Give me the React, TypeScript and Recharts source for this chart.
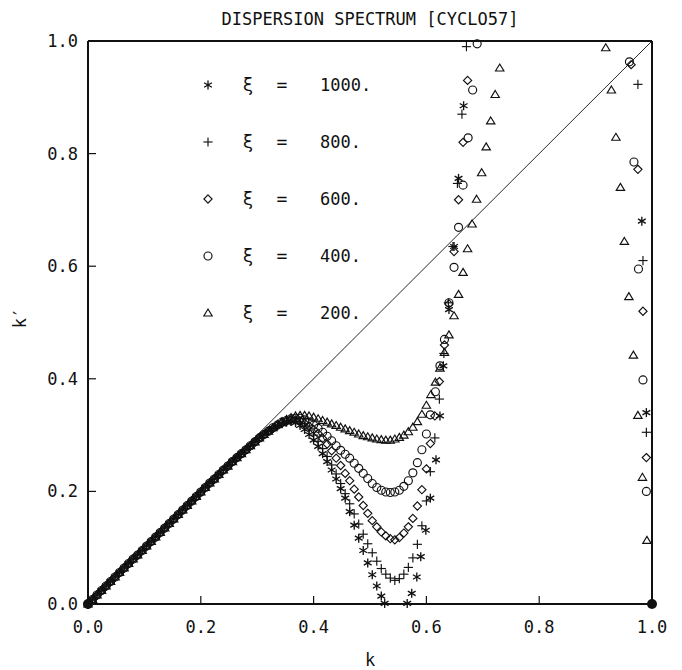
import React from 'react';
import { ScatterChart, Scatter, XAxis, YAxis, ReferenceLine, Customized } from 'recharts';

const FONT = '"DejaVu Sans Mono", monospace';
const INK = '#111';

const title = 'DISPERSION SPECTRUM [CYCLO57]';
const xLabel = 'k';
const yLabel = 'k\u2032';
const axisTicks = [0, 0.2, 0.4, 0.6, 0.8, 1.0];
const tickLabels = ['0.0', '0.2', '0.4', '0.6', '0.8', '1.0'];
const xiLabels = ['1000.', '800.', '600.', '400.', '200.'];

// shared rising branch (all five curves overlap here)
const risingBranch: [number, number][] = [
  [0, 0], [0.008, 0.008], [0.016, 0.016], [0.024, 0.024], [0.032, 0.032], [0.04, 0.04],
  [0.048, 0.048], [0.056, 0.056], [0.064, 0.064], [0.072, 0.072], [0.08, 0.08], [0.088, 0.087],
  [0.096, 0.095], [0.104, 0.103], [0.112, 0.111], [0.12, 0.119], [0.128, 0.127], [0.136, 0.135],
  [0.144, 0.143], [0.152, 0.151], [0.16, 0.159], [0.168, 0.167], [0.176, 0.175], [0.184, 0.183],
  [0.192, 0.191], [0.2, 0.199], [0.208, 0.207], [0.216, 0.215], [0.224, 0.222], [0.232, 0.23],
  [0.24, 0.238], [0.248, 0.245], [0.256, 0.253], [0.264, 0.26], [0.272, 0.267], [0.28, 0.274],
  [0.288, 0.281], [0.296, 0.288], [0.304, 0.295], [0.312, 0.301], [0.32, 0.307],
];

const xi1000Own: [number, number][] = [
  [0.328, 0.312], [0.336, 0.317], [0.344, 0.32], [0.352, 0.323], [0.36, 0.324], [0.368, 0.322],
  [0.376, 0.317], [0.384, 0.31], [0.392, 0.301], [0.4, 0.291], [0.408, 0.28], [0.416, 0.267],
  [0.424, 0.253], [0.432, 0.238], [0.44, 0.222], [0.448, 0.205], [0.456, 0.188], [0.464, 0.164],
  [0.472, 0.14], [0.48, 0.117], [0.488, 0.095], [0.496, 0.073], [0.504, 0.052], [0.512, 0.032],
  [0.52, 0.014], [0.526, 0.001],
  [0.566, 0.001], [0.574, 0.019], [0.583, 0.048], [0.59, 0.084], [0.599, 0.131], [0.607, 0.188],
  [0.617, 0.256], [0.624, 0.334], [0.63, 0.423], [0.64, 0.523], [0.649, 0.635], [0.657, 0.756],
  [0.666, 0.885],
  [0.982, 0.68], [0.99, 0.34],
];

const xi800Own: [number, number][] = [
  [0.328, 0.312], [0.336, 0.317], [0.344, 0.321], [0.352, 0.324], [0.36, 0.325], [0.368, 0.324],
  [0.376, 0.321], [0.384, 0.316], [0.392, 0.309], [0.4, 0.3], [0.408, 0.289], [0.416, 0.276],
  [0.424, 0.262], [0.432, 0.247], [0.44, 0.231], [0.448, 0.214], [0.456, 0.196], [0.464, 0.178],
  [0.472, 0.16], [0.48, 0.142], [0.488, 0.124], [0.496, 0.107], [0.504, 0.091], [0.512, 0.076],
  [0.52, 0.063], [0.528, 0.053], [0.536, 0.046], [0.544, 0.042], [0.552, 0.045], [0.56, 0.053],
  [0.568, 0.065], [0.576, 0.082], [0.584, 0.106], [0.592, 0.139], [0.6, 0.183], [0.607, 0.235],
  [0.615, 0.295], [0.623, 0.364], [0.631, 0.445], [0.639, 0.535], [0.647, 0.635], [0.655, 0.747],
  [0.663, 0.87], [0.671, 0.99],
  [0.975, 0.923], [0.984, 0.61], [0.99, 0.305],
];

const xi600Own: [number, number][] = [
  [0.328, 0.312], [0.336, 0.318], [0.344, 0.322], [0.352, 0.325], [0.36, 0.327], [0.368, 0.327],
  [0.376, 0.325], [0.384, 0.321], [0.392, 0.316], [0.4, 0.31], [0.408, 0.303], [0.416, 0.294],
  [0.424, 0.284], [0.432, 0.272], [0.44, 0.259], [0.448, 0.246], [0.456, 0.232], [0.464, 0.219],
  [0.472, 0.204], [0.48, 0.19], [0.488, 0.175], [0.496, 0.161], [0.504, 0.148], [0.512, 0.137],
  [0.52, 0.128], [0.528, 0.121], [0.536, 0.116], [0.544, 0.114], [0.552, 0.118], [0.56, 0.126],
  [0.568, 0.137], [0.576, 0.152], [0.584, 0.174], [0.592, 0.203], [0.6, 0.24], [0.607, 0.285],
  [0.615, 0.334], [0.623, 0.395], [0.632, 0.46], [0.64, 0.533], [0.649, 0.626], [0.657, 0.718],
  [0.665, 0.82], [0.673, 0.93],
  [0.963, 0.958], [0.975, 0.772], [0.984, 0.52], [0.99, 0.26],
];

const xi400Own: [number, number][] = [
  [0.328, 0.313], [0.336, 0.318], [0.344, 0.323], [0.352, 0.326], [0.36, 0.329], [0.368, 0.33],
  [0.376, 0.33], [0.384, 0.327], [0.392, 0.323], [0.4, 0.318], [0.408, 0.312], [0.416, 0.305],
  [0.424, 0.298], [0.432, 0.29], [0.44, 0.281], [0.448, 0.273], [0.456, 0.266], [0.464, 0.259],
  [0.472, 0.25], [0.48, 0.241], [0.488, 0.232], [0.496, 0.223], [0.504, 0.214], [0.512, 0.207],
  [0.52, 0.202], [0.528, 0.199], [0.536, 0.198], [0.544, 0.199], [0.552, 0.202], [0.56, 0.209],
  [0.568, 0.219], [0.576, 0.233], [0.584, 0.251], [0.592, 0.274], [0.6, 0.302], [0.607, 0.336],
  [0.616, 0.377], [0.624, 0.423], [0.632, 0.47], [0.64, 0.535], [0.649, 0.598], [0.657, 0.669],
  [0.665, 0.744], [0.674, 0.828], [0.682, 0.913], [0.69, 0.995],
  [0.96, 0.963], [0.968, 0.785], [0.976, 0.595], [0.984, 0.398], [0.99, 0.2],
];

const xi200Own: [number, number][] = [
  [0.328, 0.313], [0.336, 0.319], [0.344, 0.324], [0.352, 0.328], [0.36, 0.331], [0.368, 0.334],
  [0.376, 0.335], [0.384, 0.335], [0.392, 0.334], [0.4, 0.332], [0.408, 0.329], [0.416, 0.326],
  [0.424, 0.323], [0.432, 0.32], [0.44, 0.317], [0.448, 0.314], [0.456, 0.311], [0.464, 0.308],
  [0.472, 0.305], [0.48, 0.302], [0.488, 0.299], [0.496, 0.297], [0.504, 0.295], [0.512, 0.293],
  [0.52, 0.292], [0.528, 0.291], [0.536, 0.291], [0.544, 0.293], [0.552, 0.296], [0.56, 0.3],
  [0.568, 0.306], [0.576, 0.314], [0.584, 0.324], [0.592, 0.337], [0.6, 0.353], [0.608, 0.372],
  [0.616, 0.394], [0.624, 0.419], [0.632, 0.447], [0.64, 0.478], [0.649, 0.512], [0.657, 0.55],
  [0.665, 0.589], [0.673, 0.631], [0.681, 0.675], [0.689, 0.719], [0.698, 0.766], [0.706, 0.812],
  [0.714, 0.858], [0.722, 0.905], [0.73, 0.952],
  [0.918, 0.988], [0.928, 0.913], [0.936, 0.829], [0.944, 0.74], [0.951, 0.644], [0.959, 0.546],
  [0.967, 0.442], [0.975, 0.335], [0.983, 0.225], [0.991, 0.113],
];

const endPoints: [number, number][] = [[0, 0], [1, 0]];

const toPts = (arr: [number, number][]) => arr.map(([k, kp]) => ({ k, kp }));

const SW = 1.15;

const StarMark = ({ cx, cy }: any) => {
  const r = 4.5;
  const a = r * Math.cos(Math.PI / 6);
  const b = r * 0.5;
  return (
    <g stroke={INK} strokeWidth={1.35} fill="none">
      <line x1={cx} y1={cy - r} x2={cx} y2={cy + r} />
      <line x1={cx - a} y1={cy - b} x2={cx + a} y2={cy + b} />
      <line x1={cx - a} y1={cy + b} x2={cx + a} y2={cy - b} />
    </g>
  );
};
const PlusMark = ({ cx, cy }: any) => (
  <g stroke={INK} strokeWidth={SW} fill="none">
    <line x1={cx - 4.6} y1={cy} x2={cx + 4.6} y2={cy} />
    <line x1={cx} y1={cy - 4.6} x2={cx} y2={cy + 4.6} />
  </g>
);
const DiamondMark = ({ cx, cy }: any) => (
  <path d={`M${cx} ${cy - 4.1}L${cx + 4.1} ${cy}L${cx} ${cy + 4.1}L${cx - 4.1} ${cy}Z`} stroke={INK} strokeWidth={SW} fill="none" />
);
const CircleMark = ({ cx, cy }: any) => (
  <circle cx={cx} cy={cy} r={4} stroke={INK} strokeWidth={SW} fill="none" />
);
const TriangleMark = ({ cx, cy }: any) => (
  <path d={`M${cx} ${cy - 4}L${cx + 4.2} ${cy + 3}L${cx - 4.2} ${cy + 3}Z`} stroke={INK} strokeWidth={SW} fill="none" />
);
const DotMark = ({ cx, cy }: any) => <circle cx={cx} cy={cy} r={5} fill={INK} />;

const marks = [StarMark, PlusMark, DiamondMark, CircleMark, TriangleMark];

const XTick = (props: any) => {
  const { x, y, index } = props;
  return (
    <g>
      <line x1={x} x2={x} y1={y} y2={y - 8} stroke={INK} strokeWidth={1.2} />
      <text x={x} y={y + 29} textAnchor="middle" fontFamily={FONT} fontSize={17} fill={INK}>
        {tickLabels[index]}
      </text>
    </g>
  );
};
const YTick = (props: any) => {
  const { x, y, index } = props;
  return (
    <g>
      <line x1={x} x2={x + 8} y1={y} y2={y} stroke={INK} strokeWidth={1.2} />
      <text x={x - 10} y={y + 6} textAnchor="end" fontFamily={FONT} fontSize={17} fill={INK}>
        {tickLabels[index]}
      </text>
    </g>
  );
};

const Overlay = () => (
  <g fontFamily={FONT} fill={INK}>
    <text x={362} y={17} textAnchor="middle" fontSize={17}>{title}</text>
    <text x={362} y={658} textAnchor="middle" fontSize={17}>{xLabel}</text>
    <text x={12} y={310} textAnchor="middle" dominantBaseline="central" fontSize={17} transform="rotate(-90, 12, 310)">{yLabel}</text>
    {xiLabels.map((lab, i) => {
      const cy = 77 + i * 57;
      const M = marks[i];
      return (
        <g key={lab}>
          <M cx={200} cy={cy} />
          <text x={240} y={cy + 6} textAnchor="middle" fontSize={18}>ξ</text>
          <text x={274} y={cy + 6} textAnchor="middle" fontSize={18}>=</text>
          <text x={312} y={cy + 6} textAnchor="start" fontSize={17}>{lab}</text>
        </g>
      );
    })}
  </g>
);

const seriesData = [
  toPts([...risingBranch, ...xi1000Own]),
  toPts([...risingBranch, ...xi800Own]),
  toPts([...risingBranch, ...xi600Own]),
  toPts([...risingBranch, ...xi400Own]),
  toPts([...risingBranch, ...xi200Own]),
];

export default function App() {
  return (
    <div style={{ width: 666, height: 662, background: '#fff' }}>
      <ScatterChart width={666} height={662} margin={{ top: 33, right: 22, bottom: 0, left: 0 }}>
        <XAxis
          type="number"
          dataKey="k"
          domain={[0, 1]}
          ticks={axisTicks}
          height={66}
          tickSize={0}
          tickMargin={0}
          tickLine={false}
          tick={<XTick />}
          axisLine={{ stroke: INK, strokeWidth: 2 }}
          interval={0}
        />
        <YAxis
          type="number"
          dataKey="kp"
          domain={[0, 1]}
          ticks={axisTicks}
          width={80}
          tickSize={0}
          tickMargin={0}
          tickLine={false}
          tick={<YTick />}
          axisLine={{ stroke: INK, strokeWidth: 2 }}
          interval={0}
        />
        <ReferenceLine y={1} stroke={INK} strokeWidth={2} />
        <ReferenceLine x={1} stroke={INK} strokeWidth={2} />
        <ReferenceLine segment={[{ x: 0, y: 0 }, { x: 1, y: 1 }]} stroke={INK} strokeWidth={0.9} />
        {seriesData.map((d, i) => {
          const M = marks[i];
          return (
            <Scatter
              key={xiLabels[i]}
              name={`ξ = ${xiLabels[i]}`}
              data={d}
              isAnimationActive={false}
              shape={(p: any) => <M cx={p.cx} cy={p.cy} />}
            />
          );
        })}
        <Scatter data={toPts(endPoints)} isAnimationActive={false} shape={(p: any) => <DotMark cx={p.cx} cy={p.cy} />} />
        <Customized component={Overlay} />
      </ScatterChart>
    </div>
  );
}
